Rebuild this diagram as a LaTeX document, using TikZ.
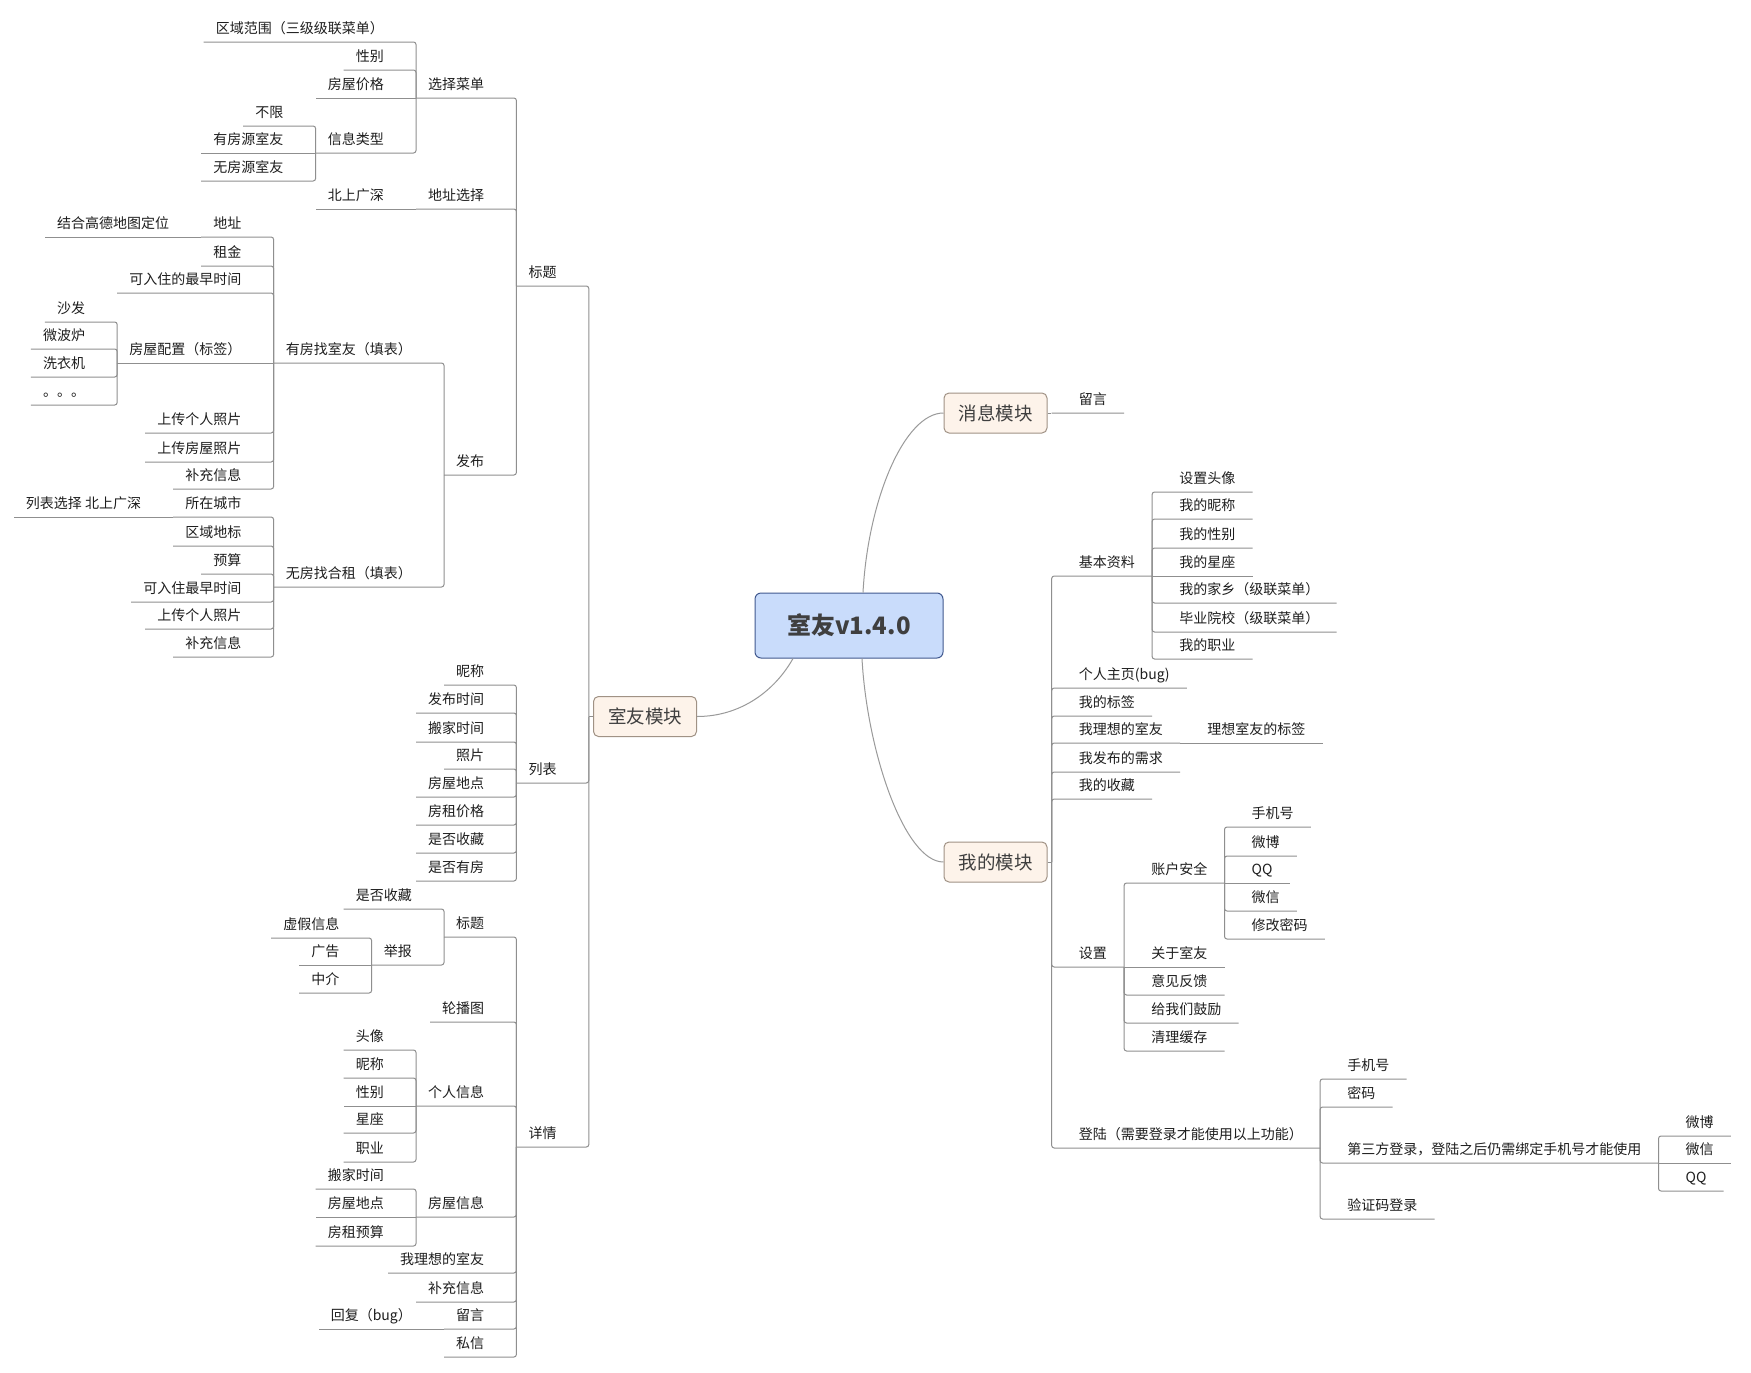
\documentclass[tikz,border=0pt]{standalone}
\usepackage{fontspec}
\setmainfont{Noto Sans CJK SC}
\definecolor{lnc}{HTML}{8F8F8F}
\definecolor{cvc}{HTML}{9A9A9A}
\definecolor{txc}{HTML}{1E1E1E}
\definecolor{dkc}{HTML}{3F3F3F}
\definecolor{rtf}{HTML}{C9DCFB}
\definecolor{rtd}{HTML}{41598F}
\definecolor{mkf}{HTML}{FDF3EA}
\definecolor{mkd}{HTML}{A09285}

\tikzset{
  tp/.style={font=\fontsize{14}{16}\selectfont, text=txc, inner ysep=5pt, text height=10.5pt, text depth=3pt},
  lt/.style={tp, inner xsep=12pt, anchor=south east, xshift=-20pt},
  rt/.style={tp, inner xsep=17pt, anchor=south west, xshift=10pt},
  root/.style={draw=rtd, fill=rtf, line width=1pt, rounded corners=6pt, minimum width=188pt, minimum height=65pt, font=\bfseries\fontsize{24}{26}\selectfont, text=dkc},
  mk/.style={draw=mkd, fill=mkf, line width=1pt, rounded corners=5pt, minimum width=103pt, minimum height=40pt, font=\fontsize{18.5}{20}\selectfont, text=dkc},
  ln/.style={draw=lnc, line width=1pt},
  cv/.style={draw=cvc, line width=1pt},
  jt/.style={inner sep=0pt, minimum size=0pt},
}

% children to the left / right of a topic (straight line when on the same level)
\newcommand\kidsl[2]{%
  \foreach \nm/\tx/\yy in {#2}{%
    \node[lt] (\nm) at (#1.south west |- 0,\yy) {\tx};
    \pgfpointdiff{\pgfpointanchor{#1}{south west}}{\pgfpointanchor{\nm}{south east}}%
    \pgfgetlastxy{\dx}{\dy}\pgfmathparse{abs(\dy)}%
    \ifdim\pgfmathresult pt<0.5pt
      \draw[ln] (#1.south west) -- (\nm.south west);
    \else
      \draw[ln, rounded corners=2.5pt] (#1.south west) |- (\nm.south east) -- (\nm.south west);
    \fi
  }}
\newcommand\kidsr[2]{%
  \foreach \nm/\tx/\yy in {#2}{%
    \node[rt] (\nm) at (#1.south east |- 0,\yy) {\tx};
    \pgfpointdiff{\pgfpointanchor{#1}{south east}}{\pgfpointanchor{\nm}{south west}}%
    \pgfgetlastxy{\dx}{\dy}\pgfmathparse{abs(\dy)}%
    \ifdim\pgfmathresult pt<0.5pt
      \draw[ln] (#1.south east) -- (\nm.south east);
    \else
      \draw[ln, rounded corners=2.5pt] (#1.south east) |- (\nm.south west) -- (\nm.south east);
    \fi
  }}

\begin{document}
\begin{tikzpicture}[x=1pt,y=-1pt]
\fill[white] (0,0) rectangle (1751,1373);
\useasboundingbox (0,0) rectangle (1751,1373);

% centre and modules
\node[root] (sy) at (849,625.5) {室友v1.4.0};
\node[mk] (yk) at (645,716.5) {室友模块};
\node[mk] (xx) at (995.5,413) {消息模块};
\node[mk] (wd) at (995.5,862) {我的模块};
\draw[cv] ([xshift=-56pt]sy.south) .. controls +(-18,32) and +(44,0) .. (yk.east);
\draw[cv] ([xshift=14pt]sy.north) .. controls +(5,-93) and +(-39,0) .. (xx.west);
\draw[cv] ([xshift=13pt]sy.south) .. controls +(5,93) and +(-39,0) .. (wd.west);

\node[jt] (ykb) at ([xshift=-4pt]yk.west) {};
\node[jt] (xxb) at ([xshift=4pt]xx.east) {};
\node[jt] (wdb) at ([xshift=4pt]wd.east) {};
\draw[ln] (yk.west) -- (ykb);
\draw[ln] (xx.east) -- (xxb);
\draw[ln] (wd.east) -- (wdb);

% 室友模块
\kidsl{ykb}{bt/标题/286, lb/列表/783, xq/详情/1147}
\kidsl{bt}{xc/选择菜单/98, dz/地址选择/209, fb/发布/475}
\kidsl{xc}{xc1/区域范围（三级级联菜单）/42, xc2/性别/70, xc3/房屋价格/98, lx/信息类型/153}
\kidsl{lx}{lx1/不限/126, lx2/有房源室友/153, lx3/无房源室友/181}
\kidsl{dz}{dz1/北上广深/209}
\kidsl{fb}{yz/有房找室友（填表）/363, wz/无房找合租（填表）/587}
\kidsl{yz}{dd/地址/237, yz2/租金/266, yz3/可入住的最早时间/293, pz/房屋配置（标签）/363, yz5/上传个人照片/433, yz6/上传房屋照片/462, yz7/补充信息/489}
\kidsl{dd}{dd1/结合高德地图定位/237}
\kidsl{pz}{pz1/沙发/322, pz2/微波炉/349, pz3/洗衣机/377, pz4/。。。/405}
\kidsl{wz}{cs/所在城市/517, wz2/区域地标/546, wz3/预算/574, wz4/可入住最早时间/602, wz5/上传个人照片/629, wz6/补充信息/657}
\kidsl{cs}{cs1/列表选择 北上广深/517}
\kidsl{lb}{lb1/昵称/685, lb2/发布时间/713, lb3/搬家时间/742, lb4/照片/769, lb5/房屋地点/797, lb6/房租价格/825, lb7/是否收藏/853, lb8/是否有房/881}
\kidsl{xq}{xt/标题/937, xq2/轮播图/1022, gr/个人信息/1106, fw/房屋信息/1217, xq5/我理想的室友/1273, xq6/补充信息/1302, ly/留言/1329, xq8/私信/1357}
\kidsl{xt}{xt1/是否收藏/909, jb/举报/965}
\kidsl{jb}{jb1/虚假信息/938, jb2/广告/965, jb3/中介/993}
\kidsl{gr}{gr1/头像/1050, gr2/昵称/1078, gr3/性别/1106, gr4/星座/1133, gr5/职业/1162}
\kidsl{fw}{fw1/搬家时间/1189, fw2/房屋地点/1217, fw3/房租预算/1246}
\kidsl{ly}{ly1/回复（bug）/1329}

% 消息模块
\kidsr{xxb}{xl/留言/413}

% 我的模块
\kidsr{wdb}{jz/基本资料/576, wd2/个人主页(bug)/688, wd3/我的标签/716, lxs/我理想的室友/743, wd5/我发布的需求/772, wd6/我的收藏/799, sz/设置/967, dl/登陆（需要登录才能使用以上功能）/1148}
\kidsr{jz}{jz1/设置头像/492, jz2/我的昵称/519, jz3/我的性别/548, jz4/我的星座/576, jz5/我的家乡（级联菜单）/603, jz6/毕业院校（级联菜单）/632, jz7/我的职业/659}
\kidsr{lxs}{lxs1/理想室友的标签/743}
\kidsr{sz}{zh/账户安全/883, sz2/关于室友/967, sz3/意见反馈/995, sz4/给我们鼓励/1023, sz5/清理缓存/1051}
\kidsr{zh}{zh1/手机号/827, zh2/微博/856, zh3/QQ/883, zh4/微信/911, zh5/修改密码/939}
\kidsr{dl}{dl1/手机号/1079, dl2/密码/1107, sf/第三方登录，登陆之后仍需绑定手机号才能使用/1163, dl4/验证码登录/1219}
\kidsr{sf}{sf1/微博/1136, sf2/微信/1163, sf3/QQ/1191}
\end{tikzpicture}
\end{document}
